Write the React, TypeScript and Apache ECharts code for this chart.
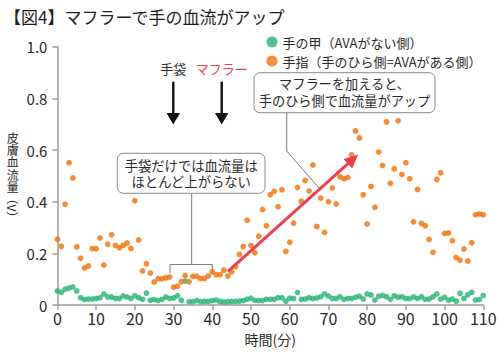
import React, { useEffect, useRef } from 'react';
import * as echarts from 'echarts';

const FONT = '"Noto Sans CJK JP", "Noto Sans", sans-serif';

const TITLE = '【図4】マフラーで手の血流がアップ';
const SERIES_BACK = '手の甲（AVAがない側）';
const SERIES_FINGER = '手指（手のひら側=AVAがある側）';
const X_NAME = '時間(分)';
const Y_NAME_CHARS = ['皮', '膚', '血', '流', '量'];
const Y_NAME_UNIT = '（V）';
const NOTE_MUFFLER = 'マフラーを加えると、\n手のひら側で血流量がアップ';
const NOTE_GLOVES = '手袋だけでは血流量は\nほとんど上がらない';
const LABEL_GLOVES = '手袋';
const LABEL_MUFFLER = 'マフラー';

const minutes = [
  0, 1, 2, 3, 4, 5, 6, 7, 8, 9, 10, 11, 12, 13, 14, 15, 16, 17, 18, 19,
  20, 21, 22, 23, 24, 25, 26, 27, 28, 29, 30, 31, 32, 33, 34, 35, 36, 37, 38, 39,
  40, 41, 42, 43, 44, 45, 46, 47, 48, 49, 50, 51, 52, 53, 54, 55, 56, 57, 58, 59,
  60, 61, 62, 63, 64, 65, 66, 67, 68, 69, 70, 71, 72, 73, 74, 75, 76, 77, 78, 79,
  80, 81, 82, 83, 84, 85, 86, 87, 88, 89, 90, 91, 92, 93, 94, 95, 96, 97, 98, 99,
  100, 101, 102, 103, 104, 105, 106, 107, 108, 109, 110,
];

const fingerValues = [
  0.255, 0.227, 0.39, 0.551, 0.492, 0.225, 0.181, 0.143, 0.151, 0.218,
  0.218, 0.259, 0.155, 0.235, 0.272, 0.23, 0.222, 0.231, 0.24, 0.219,
  0.404, 0.252, 0.132, 0.16, 0.124, 0.089, 0.102, 0.102, 0.105, 0.108,
  0.069, 0.073, 0.09, 0.114, 0.09, 0.111, 0.111, 0.103, 0.103, 0.112,
  0.129, 0.117, 0.117, 0.135, 0.112, 0.128, 0.148, 0.196, 0.226, 0.328,
  0.23, 0.202, 0.266, 0.37, 0.307, 0.427, 0.44, 0.38, 0.446, 0.207,
  0.243, 0.317, 0.455, 0.402, 0.482, 0.441, 0.542, 0.304, 0.414, 0.281,
  0.4, 0.453, 0.391, 0.496, 0.489, 0.494, 0.582, 0.674, 0.647, 0.427,
  0.314, 0.459, 0.378, 0.592, 0.54, 0.709, 0.471, 0.527, 0.713, 0.505,
  0.551, 0.489, 0.322, 0.447, 0.316, 0.307, 0.254, 0.204, 0.486, 0.512,
  0.277, 0.279, 0.249, 0.184, 0.173, 0.217, 0.17, 0.241, 0.349, 0.352,
  0.349,
];

const backValues = [
  0.054, 0.049, 0.061, 0.066, 0.07, 0.054, 0.028, 0.021, 0.023, 0.023,
  0.025, 0.028, 0.043, 0.031, 0.031, 0.025, 0.025, 0.035, 0.031, 0.025,
  0.036, 0.028, 0.022, 0.046, 0.018, 0.021, 0.017, 0.021, 0.031, 0.025,
  0.027, 0.036, 0.018, 0.093, 0.013, 0.013, 0.017, 0.013, 0.014, 0.014,
  0.017, 0.019, 0.014, 0.012, 0.013, 0.014, 0.014, 0.015, 0.017, 0.022,
  0.026, 0.018, 0.017, 0.017, 0.022, 0.022, 0.022, 0.028, 0.028, 0.015,
  0.026, 0.025, 0.048, 0.022, 0.023, 0.028, 0.025, 0.027, 0.032, 0.043,
  0.035, 0.025, 0.025, 0.032, 0.022, 0.025, 0.025, 0.03, 0.034, 0.023,
  0.043, 0.039, 0.019, 0.034, 0.037, 0.032, 0.022, 0.036, 0.03, 0.032,
  0.025, 0.025, 0.031, 0.025, 0.032, 0.022, 0.023, 0.032, 0.043, 0.023,
  0.03, 0.018, 0.023, 0.015, 0.045, 0.025, 0.04, 0.049, 0.019, 0.021,
  0.037,
];

// red trend arrow, in data coordinates (minute, volt)
const arrowFrom = [44.05, 0.13];
const arrowTo = [76.35, 0.565];

const GREEN = '#27b46f';
const ORANGE = '#f07008';
const RED = '#e8404f';
const TEXT = '#2a2a2a';
const AXIS = '#9c9c9c';
const LINE = '#7a7a7a';

function buildOption() {
  const backData = minutes.map((m, i) => [m, backValues[i]]);
  const fingerData = minutes.map((m, i) => [m, fingerValues[i]]);
  const txt = (text: string, x: number, y: number, size: number, fill = TEXT, extra: any = {}) => ({
    type: 'text',
    x,
    y,
    silent: true,
    style: {
      text,
      fill,
      fontSize: size,
      fontFamily: FONT,
      align: 'center',
      verticalAlign: 'middle',
      ...extra,
    },
  });
  const downArrow = (x: number) => [
    { type: 'line', silent: true, shape: { x1: x, y1: 81.7, x2: x, y2: 114 }, style: { stroke: '#111', lineWidth: 2.4 } },
    { type: 'polygon', silent: true, shape: { points: [[x - 6.7, 113], [x + 6.7, 113], [x, 124.5]] }, style: { fill: '#111' } },
  ];

  return {
    animation: false,
    backgroundColor: '#fff',
    textStyle: { fontFamily: FONT },
    title: {
      text: TITLE,
      left: 4,
      top: 8,
      padding: 0,
      textStyle: { fontSize: 17, fontWeight: 'normal', color: '#1e1e1e', fontFamily: FONT },
    },
    legend: {
      orient: 'vertical',
      left: 266.5,
      top: 35.5,
      padding: 0,
      itemWidth: 11,
      itemHeight: 11,
      itemGap: 6,
      icon: 'circle',
      selectedMode: false,
      data: [SERIES_BACK, SERIES_FINGER],
      textStyle: { fontSize: 13, color: TEXT, fontFamily: FONT },
    },
    grid: { left: 57.4, right: 16.7, top: 46.7, bottom: 47 },
    xAxis: {
      type: 'value',
      min: 0,
      max: 110,
      interval: 10,
      name: X_NAME,
      nameLocation: 'middle',
      nameGap: 27,
      nameTextStyle: { fontSize: 14, color: TEXT, fontFamily: FONT },
      axisLine: { show: true, lineStyle: { color: AXIS, width: 1.5 } },
      axisTick: { show: true, length: 5, lineStyle: { color: AXIS, width: 1.5 } },
      splitLine: { show: false },
      axisLabel: { fontSize: 16, color: TEXT, margin: 5, fontFamily: FONT },
    },
    yAxis: {
      type: 'value',
      min: 0,
      max: 1,
      interval: 0.2,
      axisLine: { show: true, lineStyle: { color: AXIS, width: 1.5 } },
      axisTick: { show: true, length: 5, lineStyle: { color: AXIS, width: 1.5 } },
      splitLine: { show: false },
      axisLabel: {
        fontSize: 15,
        color: TEXT,
        margin: 10,
        fontFamily: FONT,
        formatter: (v: number) => (v === 0 ? '0' : v.toFixed(1)),
      },
    },
    series: [
      {
        name: SERIES_BACK,
        type: 'scatter',
        data: backData,
        symbol: 'circle',
        symbolSize: 5.8,
        itemStyle: { color: GREEN },
        silent: true,
      },
      {
        name: SERIES_FINGER,
        type: 'scatter',
        data: fingerData,
        symbol: 'circle',
        symbolSize: 5.8,
        itemStyle: { color: ORANGE },
        silent: true,
        markLine: {
          silent: true,
          symbol: ['none', 'triangle'],
          symbolSize: [13, 14],
          label: { show: false },
          emphasis: { disabled: true },
          lineStyle: { color: RED, width: 3, type: 'solid', opacity: 1 },
          itemStyle: { color: RED },
          data: [[{ coord: arrowFrom }, { coord: arrowTo }]],
        },
      },
    ],
    graphic: [
      // y-axis title, set vertically, one character per row
      ...Y_NAME_CHARS.map((ch, i) => txt(ch, 12.7, 137.5 + i * 12.2, 12)),
      { ...txt(Y_NAME_UNIT, 12.7, 208, 12), rotation: -Math.PI / 2 },
      // glove / muffler markers
      txt(LABEL_GLOVES, 173.3, 68.5, 13),
      txt(LABEL_MUFFLER, 221.7, 68.5, 13, RED),
      ...downArrow(173.3),
      ...downArrow(221.7),
      // connector + bracket for gloves note
      { type: 'polyline', silent: true, shape: { points: [[191.7, 193.3], [191.7, 264.5]] }, style: { stroke: LINE, lineWidth: 1, fill: 'none' } },
      { type: 'polyline', silent: true, shape: { points: [[170, 273], [170, 264.5], [212.3, 264.5], [212.3, 273]] }, style: { stroke: LINE, lineWidth: 1, fill: 'none' } },
      // connector for muffler note
      { type: 'polyline', silent: true, shape: { points: [[286.7, 112.7], [286.7, 151], [319.3, 188.3]] }, style: { stroke: LINE, lineWidth: 1, fill: 'none' } },
      // note boxes
      { type: 'rect', silent: true, shape: { x: 117.3, y: 153.3, width: 147.7, height: 40, r: 6 }, style: { fill: '#fff', stroke: '#8a8a8a', lineWidth: 1 } },
      txt(NOTE_GLOVES, 191.2, 173.4, 13.3, TEXT, { lineHeight: 16.7 }),
      { type: 'rect', silent: true, shape: { x: 254, y: 72.7, width: 181, height: 40, r: 6 }, style: { fill: '#fff', stroke: '#8a8a8a', lineWidth: 1 } },
      txt(NOTE_MUFFLER, 344.5, 91.8, 13.2, TEXT, { lineHeight: 16.7 }),
    ],
  };
}

export default function App() {
  const ref = useRef<HTMLDivElement>(null);
  useEffect(() => {
    if (!ref.current) return;
    const chart = echarts.init(ref.current, null, { renderer: 'svg' });
    chart.setOption(buildOption() as any);
    return () => chart.dispose();
  }, []);
  return (
    <div
      ref={ref}
      style={{ position: 'fixed', left: 0, top: 0, width: 500, height: 352, background: '#fff' }}
    />
  );
}
